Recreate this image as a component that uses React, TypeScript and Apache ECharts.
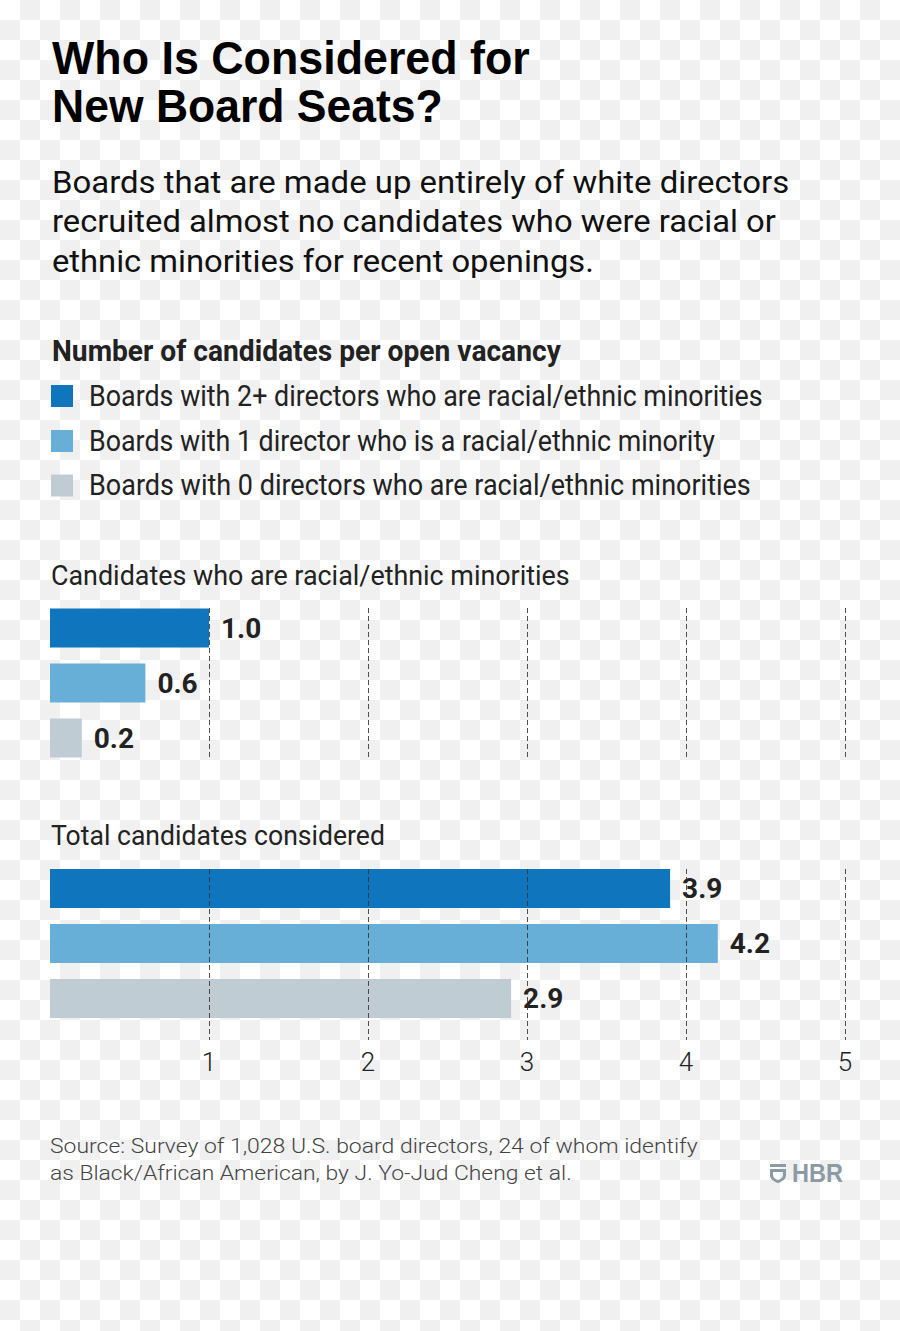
import React, { useEffect, useRef } from "react";
import * as echarts from "echarts";

// ---------- data ----------
const boardTypes = [
  "Boards with 2+ directors who are racial/ethnic minorities",
  "Boards with 1 director who is a racial/ethnic minority",
  "Boards with 0 directors who are racial/ethnic minorities",
];
const seriesColors = ["#0f75bc", "#68afd7", "#c0ccd3"];
const minorityCandidates = [1.0, 0.6, 0.2];
const totalCandidates = [3.9, 4.2, 2.9];
const axisMin = 0;
const axisMax = 5;
const axisInterval = 1;

const titleLines = ["Who Is Considered for", "New Board Seats?"];
const subtitleLines = [
  "Boards that are made up entirely of white directors",
  "recruited almost no candidates who were racial or",
  "ethnic minorities for recent openings.",
];
const legendTitle = "Number of candidates per open vacancy";
const panelTitles = [
  "Candidates who are racial/ethnic minorities",
  "Total candidates considered",
];
const sourceLines = [
  "Source: Survey of 1,028 U.S. board directors, 24 of whom identify",
  "as Black/African American, by J. Yo-Jud Cheng et al.",
];
const brand = "HBR";

// ---------- helpers ----------
let measureCtx: CanvasRenderingContext2D | null = null;
function measure(text: string, font: string): number {
  if (!measureCtx) measureCtx = document.createElement("canvas").getContext("2d");
  if (!measureCtx) return 0;
  measureCtx.font = font;
  return measureCtx.measureText(text).width;
}

function textEl(
  text: string,
  x: number,
  y: number,
  size: number,
  weight: number | string,
  family: string,
  color: string,
  targetWidth?: number
) {
  let scaleX = 1;
  if (targetWidth) {
    const w = measure(text, `${weight} ${size}px ${family}`);
    if (w > 0) scaleX = targetWidth / w;
  }
  return {
    type: "text",
    x,
    y,
    scaleX,
    style: {
      text,
      fontSize: size,
      fontWeight: weight,
      fontFamily: family,
      fill: color,
      textAlign: "left",
      textVerticalAlign: "middle",
      verticalAlign: "middle",
    },
  };
}

let shieldRegistered = false;
function registerShield() {
  if (shieldRegistered) return;
  shieldRegistered = true;
  const d =
    "M0 0H16V3H0Z M0 5H16V11C16 15 12.5 17.5 8 19C3.5 17.5 0 15 0 11Z M3 8V11C3 13.5 5 15 8 16C11 15 13 13.5 13 11V8Z";
  echarts.graphic.registerShape("hbrShield", echarts.graphic.extendPath(d, {}) as any);
}

const SANS = "'Liberation Sans', Arial, sans-serif";
const ROBOTO = "Roboto, 'Noto Sans', sans-serif";

export default function App() {
  const ref = useRef<HTMLDivElement>(null);

  useEffect(() => {
    if (!ref.current) return;
    registerShield();
    const chart = echarts.init(ref.current, undefined, { renderer: "svg" });

    const gridLeft = 50;
    const gridWidth = 795;
    const splitLineStyle = { type: [5, 3], color: "#333", width: 1, opacity: 0.85 };

    const valueLabel = {
      show: true,
      position: "right",
      distance: 12,
      formatter: (p: any) => Number(p.value).toFixed(1),
      fontSize: 28,
      fontWeight: "bold",
      fontFamily: ROBOTO,
      color: "#222",
    };

    const barData = (vals: number[]) =>
      vals.map((v, i) => ({ value: v, itemStyle: { color: seriesColors[i] } }));

    const graphics: any[] = [];
    // title
    graphics.push(textEl(titleLines[0], 52, 58, 46, "bold", SANS, "#000", 478));
    graphics.push(textEl(titleLines[1], 52, 106, 46, "bold", SANS, "#000", 391));
    // subtitle
    const subW = [737, 724, 542];
    const subY = [182, 221.5, 261];
    subtitleLines.forEach((t, i) =>
      graphics.push(textEl(t, 52, subY[i], 31, 400, ROBOTO, "#111", subW[i]))
    );
    // legend title
    graphics.push(textEl(legendTitle, 52, 351, 29, 700, ROBOTO, "#222", 509));
    // legend items
    const legW = [674, 626, 662];
    const legY = [396, 441, 485.5];
    boardTypes.forEach((t, i) => {
      graphics.push({
        type: "rect",
        shape: { x: 51, y: legY[i] - 11, width: 22, height: 22 },
        style: { fill: seriesColors[i] },
      });
      graphics.push(textEl(t, 89, legY[i], 29, 400, ROBOTO, "#222", legW[i]));
    });
    // panel titles
    graphics.push(textEl(panelTitles[0], 51, 575.5, 28, 400, ROBOTO, "#222", 519));
    graphics.push(textEl(panelTitles[1], 51, 836, 28, 400, ROBOTO, "#222", 334));
    // source
    graphics.push(textEl(sourceLines[0], 50, 1146, 20, 300, ROBOTO, "#444", 648));
    graphics.push(textEl(sourceLines[1], 50, 1173, 20, 300, ROBOTO, "#444", 522));
    // HBR logo
    graphics.push({
      type: "hbrShield",
      x: 770,
      y: 1164,
      scaleX: 1,
      scaleY: 1,
      style: { fill: "#8c9aa4" },
    });
    graphics.push(textEl(brand, 792, 1173.5, 25, "bold", SANS, "#8c9aa4", 51));

    const option: any = {
      animation: false,
      backgroundColor: "transparent",
      grid: [
        { left: gridLeft, width: gridWidth, top: 600.5, height: 165 },
        { left: gridLeft, width: gridWidth, top: 608, height: 149 },
        { left: gridLeft, width: gridWidth, top: 861, height: 165 },
        { left: gridLeft, width: gridWidth, top: 869, height: 171 },
      ],
      xAxis: [
        { gridIndex: 0, type: "value", min: axisMin, max: axisMax, show: false },
        {
          gridIndex: 1,
          type: "value",
          min: axisMin,
          max: axisMax,
          interval: axisInterval,
          z: 10,
          axisLine: { show: false },
          axisTick: { show: false },
          axisLabel: { show: false },
          splitLine: { show: true, showMinLine: false, lineStyle: splitLineStyle },
        },
        { gridIndex: 2, type: "value", min: axisMin, max: axisMax, show: false },
        {
          gridIndex: 3,
          type: "value",
          min: axisMin,
          max: axisMax,
          interval: axisInterval,
          z: 10,
          axisLine: { show: false },
          axisTick: { show: false },
          axisLabel: {
            show: true,
            showMinLabel: false,
            margin: 9,
            fontSize: 26,
            fontWeight: 300,
            fontFamily: ROBOTO,
            color: "#222",
            formatter: (v: number) => (v === axisMin ? "" : String(v)),
          },
          splitLine: { show: true, showMinLine: false, lineStyle: splitLineStyle },
        },
      ],
      yAxis: [
        { gridIndex: 0, type: "category", inverse: true, data: boardTypes, show: false },
        { gridIndex: 1, type: "value", min: 0, max: 1, show: false },
        { gridIndex: 2, type: "category", inverse: true, data: boardTypes, show: false },
        { gridIndex: 3, type: "value", min: 0, max: 1, show: false },
      ],
      series: [
        {
          name: panelTitles[0],
          type: "bar",
          xAxisIndex: 0,
          yAxisIndex: 0,
          barWidth: 39,
          data: barData(minorityCandidates),
          label: valueLabel,
        },
        {
          name: panelTitles[1],
          type: "bar",
          xAxisIndex: 2,
          yAxisIndex: 2,
          barWidth: 39,
          data: barData(totalCandidates),
          label: valueLabel,
        },
      ],
      graphic: graphics,
    };

    chart.setOption(option);
    return () => chart.dispose();
  }, []);

  return (
    <div
      style={{
        position: "absolute",
        left: 0,
        top: 0,
        width: 900,
        height: 1331,
        backgroundColor: "#ffffff",
        backgroundImage:
          "conic-gradient(#f0f0f0 25%, transparent 0 50%, #f0f0f0 0 75%, transparent 0)",
        backgroundSize: "40px 40px",
      }}
    >
      <div ref={ref} style={{ width: 900, height: 1331 }} />
    </div>
  );
}
